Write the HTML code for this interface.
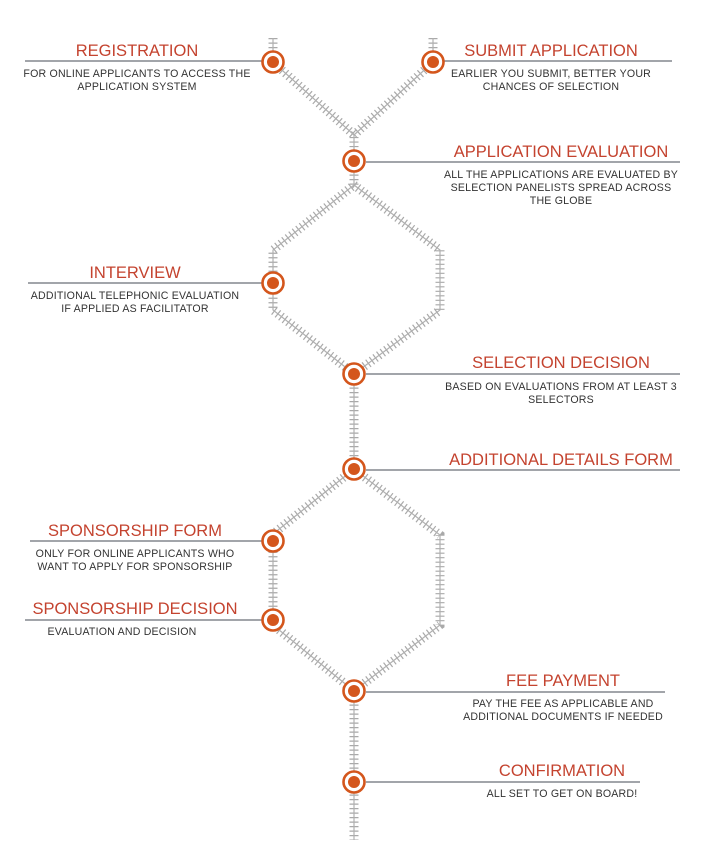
<!DOCTYPE html>
<html><head><meta charset="utf-8"><style>
html,body{margin:0;padding:0;background:#fff;}
svg{display:block}
.t{font-family:"Liberation Sans",sans-serif;font-size:16.5px;fill:#c4432f;text-anchor:middle}
.d{font-family:"Liberation Sans",sans-serif;font-size:10.6px;letter-spacing:0.2px;fill:#333;text-anchor:middle}
.ln{stroke:#6b6f78;stroke-width:1.3}
.tie{fill:none;stroke:#a9a9a9;stroke-width:9;stroke-dasharray:1.2 3.3;}
.rail{fill:none;stroke:#b0b0b0;stroke-width:1.2}
</style></head><body>
<svg width="705" height="854" viewBox="0 0 705 854">
<g>
<path d="M273,38 L273,62 L354,135 L354,161 M433,38 L433,62 L354,135 M354,161 L354,185 L273,250 L273,310 L354,374 M354,185 L440,250 L440,310 L354,374 M354,374 L354,469 M354,469 L273,534 L273,625 L354,691 M354,469 L440,535 L440,625 L354,691 M354,691 L354,840" class="tie"/>
<path d="M273,38 L273,62 L354,135 L354,161 M433,38 L433,62 L354,135 M354,161 L354,185 L273,250 L273,310 L354,374 M354,185 L440,250 L440,310 L354,374 M354,374 L354,469 M354,469 L273,534 L273,625 L354,691 M354,469 L440,535 L440,625 L354,691 M354,691 L354,840" class="rail"/>
</g>
<g>
<line class="ln" x1="25" y1="61" x2="262" y2="61"/>
<line class="ln" x1="444" y1="61" x2="672" y2="61"/>
<line class="ln" x1="366" y1="162" x2="680" y2="162"/>
<line class="ln" x1="28" y1="283" x2="262" y2="283"/>
<line class="ln" x1="366" y1="374" x2="680" y2="374"/>
<line class="ln" x1="366" y1="470" x2="680" y2="470"/>
<line class="ln" x1="30" y1="541" x2="262" y2="541"/>
<line class="ln" x1="25" y1="620" x2="262" y2="620"/>
<line class="ln" x1="366" y1="692" x2="665" y2="692"/>
<line class="ln" x1="366" y1="782" x2="640" y2="782"/>
</g>
<g fill="#fff" stroke="#d4561c">
<g stroke-width="2.6">
<circle cx="273" cy="62" r="10.5"/><circle cx="433" cy="62" r="10.5"/>
<circle cx="354" cy="161" r="10.5"/><circle cx="273" cy="283" r="10.5"/>
<circle cx="354" cy="374" r="10.5"/><circle cx="354" cy="469" r="10.5"/>
<circle cx="273" cy="541" r="10.5"/><circle cx="273" cy="620" r="10.5"/>
<circle cx="354" cy="691" r="10.5"/><circle cx="354" cy="782" r="10.5"/>
</g>
</g>
<g fill="#d4561c">
<circle cx="273" cy="62" r="6"/><circle cx="433" cy="62" r="6"/>
<circle cx="354" cy="161" r="6"/><circle cx="273" cy="283" r="6"/>
<circle cx="354" cy="374" r="6"/><circle cx="354" cy="469" r="6"/>
<circle cx="273" cy="541" r="6"/><circle cx="273" cy="620" r="6"/>
<circle cx="354" cy="691" r="6"/><circle cx="354" cy="782" r="6"/>
</g>
<text class="t" x="137" y="56">REGISTRATION</text>
<text class="d" x="137" y="77">FOR ONLINE APPLICANTS TO ACCESS THE</text>
<text class="d" x="137" y="90">APPLICATION SYSTEM</text>
<text class="t" x="551" y="56">SUBMIT APPLICATION</text>
<text class="d" x="551" y="77">EARLIER YOU SUBMIT, BETTER YOUR</text>
<text class="d" x="551" y="90">CHANCES OF SELECTION</text>
<text class="t" x="561" y="157">APPLICATION EVALUATION</text>
<text class="d" x="561" y="178">ALL THE APPLICATIONS ARE EVALUATED BY</text>
<text class="d" x="561" y="191">SELECTION PANELISTS SPREAD ACROSS</text>
<text class="d" x="561" y="204">THE GLOBE</text>
<text class="t" x="135" y="278">INTERVIEW</text>
<text class="d" x="135" y="299">ADDITIONAL TELEPHONIC EVALUATION</text>
<text class="d" x="135" y="312">IF APPLIED AS FACILITATOR</text>
<text class="t" x="561" y="368">SELECTION DECISION</text>
<text class="d" x="561" y="390">BASED ON EVALUATIONS FROM AT LEAST 3</text>
<text class="d" x="561" y="403">SELECTORS</text>
<text class="t" x="561" y="465">ADDITIONAL DETAILS FORM</text>
<text class="t" x="135" y="536">SPONSORSHIP FORM</text>
<text class="d" x="135" y="557">ONLY FOR ONLINE APPLICANTS WHO</text>
<text class="d" x="135" y="570">WANT TO APPLY FOR SPONSORSHIP</text>
<text class="t" x="135" y="614">SPONSORSHIP DECISION</text>
<text class="d" x="122" y="635">EVALUATION AND DECISION</text>
<text class="t" x="563" y="686">FEE PAYMENT</text>
<text class="d" x="563" y="707">PAY THE FEE AS APPLICABLE AND</text>
<text class="d" x="563" y="720">ADDITIONAL DOCUMENTS IF NEEDED</text>
<text class="t" x="562" y="776">CONFIRMATION</text>
<text class="d" x="562" y="797">ALL SET TO GET ON BOARD!</text>
</svg>
</body></html>
